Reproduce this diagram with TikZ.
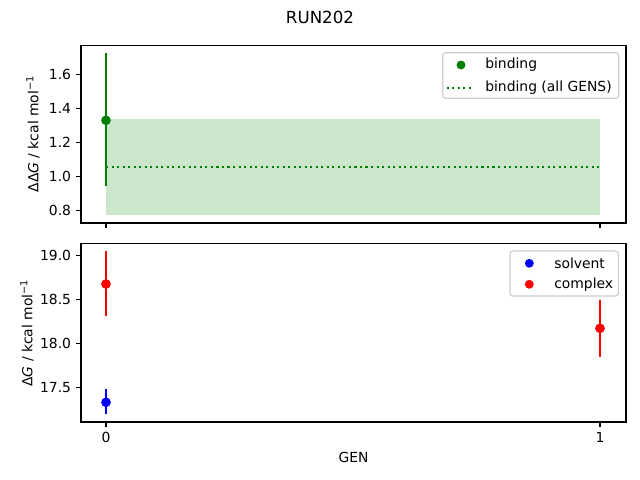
\documentclass[tikz,border=0pt]{standalone}
\usepackage{fontspec}
\setmainfont{DejaVu Sans}
\definecolor{mplgreen}{HTML}{008000}
\definecolor{mplred}{HTML}{FF0000}
\definecolor{mplblue}{HTML}{0000FF}
\definecolor{legedge}{HTML}{CCCCCC}
\begin{document}
\begin{tikzpicture}[x=0.72pt,y=-0.72pt,
  spine/.style={draw=black,line width=0.8pt},
  tick/.style={draw=black,line width=0.8pt},
  ticklab/.style={inner sep=0pt,font=\fontsize{10}{12}\selectfont},
  ebar/.style={line width=1.5pt},
  mk/.style={radius=3.5pt},
  lmk/.style={radius=3.2pt},
  legbox/.style={draw=legedge,line width=0.8pt,fill=white,fill opacity=0.8,rounded corners=2pt},
  legtxt/.style={anchor=west,inner sep=0pt,font=\fontsize{10}{12}\selectfont},
  dotline/.style={line width=1.5pt,dash pattern=on 1.5pt off 2.475pt}]
\useasboundingbox (0,0) rectangle (640,480);
% title
\node[inner sep=0pt,font=\fontsize{12}{14}\selectfont] (title) at (320,17) {RUN202};
% ---------- top panel ----------
\fill[mplgreen,opacity=0.2] (106,119) rectangle (600,215.3);
\draw[mplgreen,dotline] (106,166.7) -- (600,166.7);
\draw[mplgreen,ebar] (106,53.3) -- (106,186);
\fill[mplgreen] (106,120.3) circle[mk];
\draw[spine] (81,45.5) rectangle (626,223);
\foreach \y/\l in {74.3/1.6,108.4/1.4,142.4/1.2,176.3/1.0,210.6/0.8}{
  \draw[tick] (81,\y) -- (76.1,\y);
  \node[ticklab,anchor=east] at (71.3,\y) {\l};
}
\foreach \x in {106,600}{\draw[tick] (\x,223) -- (\x,227.9);}
\node[inner sep=0pt,rotate=90,font=\fontsize{10}{12}\selectfont] (ylab1) at (33,134) {ΔΔ\textit{G} / kcal mol\textsuperscript{−1}};
% legend top
\draw[legbox] (442.7,52.7) rectangle (618.7,98.3);
\fill[mplgreen] (461,65) circle[lmk];
\node[legtxt] (lb1) at (485,65) {binding};
\draw[mplgreen,dotline] (446.7,87.7) -- (471.7,87.7);
\node[legtxt] (lb2) at (485,87.7) {binding (all GENS)};
% ---------- bottom panel ----------
\draw[mplred,ebar] (106,251.3) -- (106,316);
\fill[mplred] (106,284) circle[mk];
\draw[mplblue,ebar] (106,389.3) -- (106,413.7);
\fill[mplblue] (106,402.3) circle[mk];
\draw[mplred,ebar] (600,300) -- (600,356.7);
\fill[mplred] (600,328.3) circle[mk];
\draw[spine] (81,243.5) rectangle (626,422);
\foreach \y/\l in {255.3/19.0,299.5/18.5,343.7/18.0,387.9/17.5}{
  \draw[tick] (81,\y) -- (76.1,\y);
  \node[ticklab,anchor=east] at (71.3,\y) {\l};
}
\foreach \x/\l in {106/0,600/1}{
  \draw[tick] (\x,422) -- (\x,426.9);
  \node[ticklab,anchor=north] at (\x,431.8) {\l};
}
\node[inner sep=0pt,rotate=90,font=\fontsize{10}{12}\selectfont] (ylab2) at (27,333) {Δ\textit{G} / kcal mol\textsuperscript{−1}};
\node[inner sep=0pt,font=\fontsize{10}{12}\selectfont] (xlab) at (353.5,457) {GEN};
% legend bottom
\draw[legbox] (510,251) rectangle (618.3,296);
\fill[mplblue] (529.3,263.3) circle[lmk];
\node[legtxt] (ls1) at (554,263.3) {solvent};
\fill[mplred] (529.3,284.3) circle[lmk];
\node[legtxt] (ls2) at (554,284.3) {complex};
\end{tikzpicture}
\end{document}
